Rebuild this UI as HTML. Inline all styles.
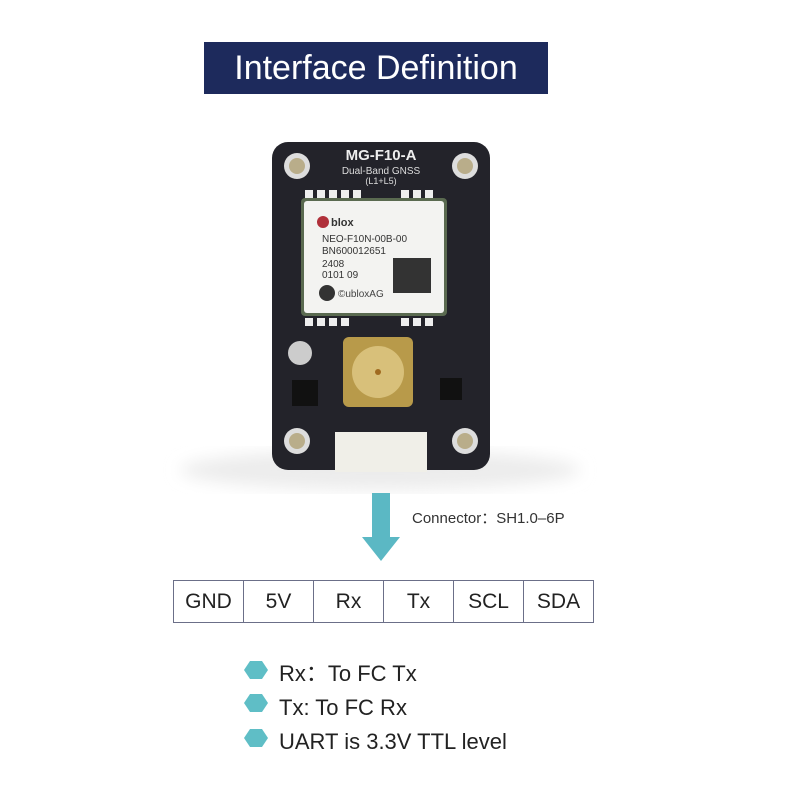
<!DOCTYPE html><html><head><style>
body{margin:0;width:800px;height:800px;background:#fff;position:relative;overflow:hidden;font-family:"Liberation Sans",sans-serif}
.a{position:absolute}
td{border:1.5px solid #6b6f88;width:69px;text-align:center;padding:0}
</style></head><body>
<div class="a" style="left:204px;top:42px;width:344px;height:52px;background:#1d2a5c;color:#fff;font-size:34px;line-height:52px;text-align:center">Interface Definition</div>
<svg class="a" style="left:0;top:0" width="800" height="800">
<defs><filter id="b"><feGaussianBlur stdDeviation="8"/></filter></defs>
<ellipse cx="380" cy="470" rx="200" ry="20" fill="#ececec" filter="url(#b)"/>
<rect x="272" y="142" width="218" height="328" rx="16" fill="#23232a"/>
<g fill="#ddd"><circle cx="297" cy="166" r="13"/><circle cx="465" cy="166" r="13"/><circle cx="297" cy="441" r="13"/><circle cx="465" cy="441" r="13"/></g>
<g fill="#b9ad8a"><circle cx="297" cy="166" r="8"/><circle cx="465" cy="166" r="8"/><circle cx="297" cy="441" r="8"/><circle cx="465" cy="441" r="8"/></g>
<text x="381" y="160" fill="#eee" font-size="15" font-weight="bold" text-anchor="middle">MG-F10-A</text>
<text x="381" y="174" fill="#ddd" font-size="10" text-anchor="middle">Dual-Band GNSS</text>
<text x="381" y="184" fill="#ddd" font-size="9" text-anchor="middle">(L1+L5)</text>
<g fill="#eee"><rect x="305" y="190" width="8" height="8"/><rect x="317" y="190" width="8" height="8"/><rect x="329" y="190" width="8" height="8"/><rect x="341" y="190" width="8" height="8"/><rect x="353" y="190" width="8" height="8"/><rect x="401" y="190" width="8" height="8"/><rect x="413" y="190" width="8" height="8"/><rect x="425" y="190" width="8" height="8"/>
<rect x="305" y="318" width="8" height="8"/><rect x="317" y="318" width="8" height="8"/><rect x="329" y="318" width="8" height="8"/><rect x="341" y="318" width="8" height="8"/><rect x="401" y="318" width="8" height="8"/><rect x="413" y="318" width="8" height="8"/><rect x="425" y="318" width="8" height="8"/></g>
<rect x="301" y="198" width="146" height="118" rx="4" fill="#5a6a50"/>
<rect x="304" y="201" width="140" height="112" rx="3" fill="#f3f3f1"/>
<circle cx="323" cy="222" r="6" fill="#b0303a"/>
<text x="331" y="226" font-size="11" font-weight="bold" fill="#333">blox</text>
<text x="322" y="242" font-size="10" fill="#333">NEO-F10N-00B-00</text>
<text x="322" y="254" font-size="10" fill="#333">BN600012651</text>
<text x="322" y="267" font-size="10" fill="#333">2408</text>
<text x="322" y="278" font-size="10" fill="#333">0101 09</text>
<rect x="393" y="258" width="38" height="35" fill="#333"/>
<circle cx="327" cy="293" r="8" fill="#333"/>
<text x="338" y="297" font-size="10" fill="#444">©ubloxAG</text>
<rect x="343" y="337" width="70" height="70" rx="6" fill="#b89a4a"/>
<circle cx="378" cy="372" r="26" fill="#d8c07a"/>
<circle cx="378" cy="372" r="3" fill="#a06a20"/>
<circle cx="300" cy="353" r="12" fill="#ccc"/>
<rect x="292" y="380" width="26" height="26" fill="#111"/>
<rect x="440" y="378" width="22" height="22" fill="#111"/>
<rect x="335" y="432" width="92" height="40" fill="#f0efe8"/>
<rect x="372" y="493" width="18" height="46" fill="#5bb8c4"/>
<polygon points="362,537 400,537 381,561" fill="#5bb8c4"/>
<g fill="#5fbec6">
<polygon points="250,661 262,661 268,670 262,679 250,679 244,670"/>
<polygon points="250,694 262,694 268,703 262,712 250,712 244,703"/>
<polygon points="250,729 262,729 268,738 262,747 250,747 244,738"/>
</g>
</svg>
<div class="a" style="left:412px;top:507px;font-size:15px;color:#333">Connector：SH1.0–6P</div>
<table class="a" style="left:173px;top:580px;border-collapse:collapse;font-size:21px;color:#222">
<tr style="height:42px"><td>GND</td><td>5V</td><td>Rx</td><td>Tx</td><td>SCL</td><td>SDA</td></tr></table>
<div class="a" style="left:279px;top:657px;font-size:22px;color:#222;line-height:34px">Rx：To FC Tx<br>Tx: To FC Rx<br>UART is 3.3V TTL level</div>
</body></html>
